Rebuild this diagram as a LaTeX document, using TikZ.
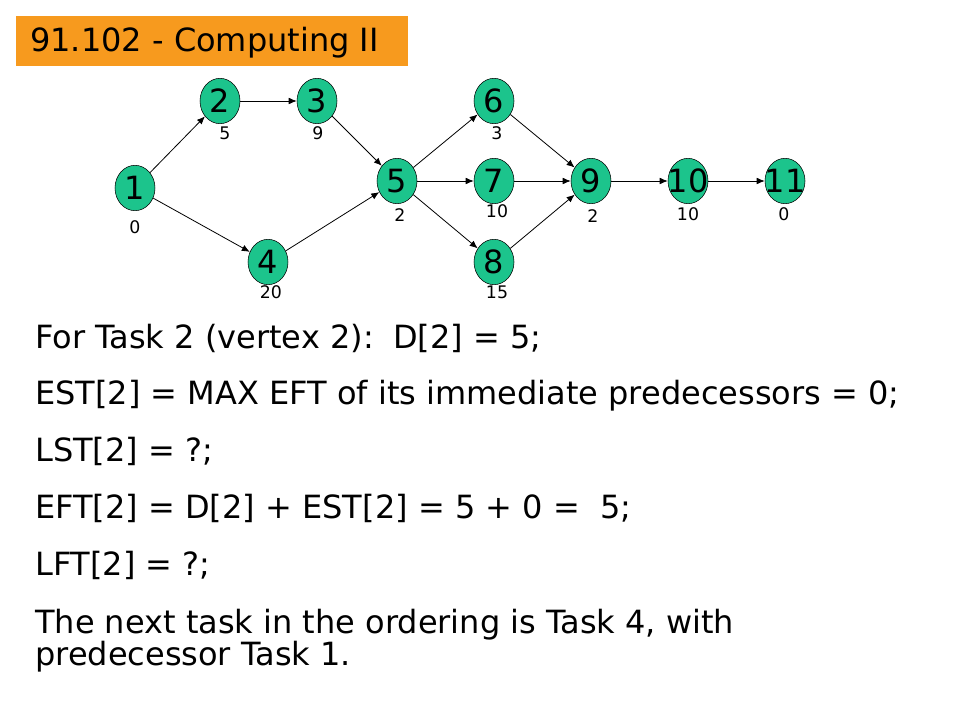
\documentclass[tikz,border=0pt]{standalone}
\usepackage{fontspec}
\setmainfont{DejaVu Sans}
\usetikzlibrary{arrows.meta,shapes.geometric}
\definecolor{taskgreen}{RGB}{28,196,140}
\definecolor{titleorange}{RGB}{247,154,30}
\tikzset{
  task/.style={ellipse,draw=black,fill=taskgreen,minimum width=30pt,minimum height=34pt,inner sep=0pt,
    label={[inner sep=0pt,font=\fontsize{24}{24}\selectfont]center:#1}},
  dur/.style={font=\fontsize{13}{13}\selectfont,inner sep=0pt},
  line/.style={anchor=base west,inner sep=0pt,font=\fontsize{24}{28}\selectfont},
  edge/.style={-{Latex[length=6pt,width=5pt]},line width=0.6pt}
}
\begin{document}
\begin{tikzpicture}[x=0.75pt,y=-0.75pt]
\useasboundingbox (0,0) rectangle (960,720);
% title
\fill[titleorange] (16,16) rectangle (408,66);
\node[line] (title) at (30,52) {91.102 - Computing II};
% tasks
\node[task=1] (t1) at (135,188) {};
\node[task=2] (t2) at (220,101) {};
\node[task=3] (t3) at (317,101) {};
\node[task=4] (t4) at (268,262) {};
\node[task=5] (t5) at (397,181) {};
\node[task=6] (t6) at (494,101) {};
\node[task=7] (t7) at (494,181) {};
\node[task=8] (t8) at (494,262) {};
\node[task=9] (t9) at (591,181) {};
\node[task=10] (t10) at (688,181) {};
\node[task=11] (t11) at (785,181) {};
% durations
\node[dur] (d1) at (135,227) {0};
\node[dur] (d2) at (225,133) {5};
\node[dur] (d3) at (318,133) {9};
\node[dur] (d4) at (271,292) {20};
\node[dur] (d5) at (400,215) {2};
\node[dur] (d6) at (497,133) {3};
\node[dur] (d7) at (497,211) {10};
\node[dur] (d8) at (497,292) {15};
\node[dur] (d9) at (593,216) {2};
\node[dur] (d10) at (688,214) {10};
\node[dur] (d11) at (784,214) {0};
% edges
\foreach \a/\b in {t1/t2,t1/t4,t2/t3,t3/t5,t4/t5,t5/t6,t5/t7,t5/t8,t6/t9,t7/t9,t8/t9,t9/t10,t10/t11}
  \draw[edge] (\a) -- (\b);
% text
\node[line] (l1) at (35,349) {For Task 2 (vertex 2):\hspace{0.6em}D[2] = 5;};
\node[line] (l2) at (35,404) {EST[2] = MAX EFT of its immediate predecessors = 0;};
\node[line] (l3) at (35,461) {LST[2] = ?;};
\node[line] (l4) at (35,518) {EFT[2] = D[2] + EST[2] = 5 + 0 =\ \ 5;};
\node[line] (l5) at (35,575) {LFT[2] = ?;};
\node[line] (l6) at (35,633) {The next task in the ordering is Task 4, with};
\node[line] (l7) at (35,665) {predecessor Task 1.};
\end{tikzpicture}
\end{document}
